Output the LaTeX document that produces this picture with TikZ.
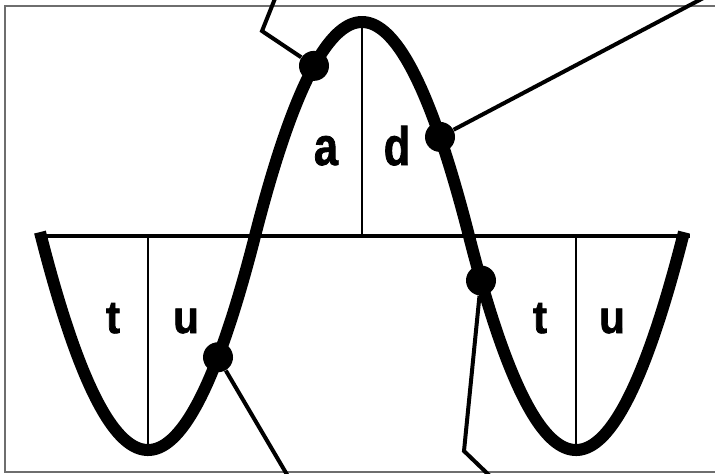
\documentclass[tikz,border=0pt]{standalone}
\usepackage{fontspec}
\setmainfont{Liberation Sans}
\newfontfamily\lblnarrow{Liberation Sans}[FakeStretch=0.8, FakeBold=1.5]
\newfontfamily\lblheavy{Liberation Sans}[FakeStretch=0.92, FakeBold=1.5]
\usepackage{xcolor}
\usepackage{tikz}
\usetikzlibrary{calc}
\definecolor{wvFrame}{HTML}{6E6E6E}

\begin{document}
\begin{tikzpicture}[x=0.5pt, y=-0.5pt,
  declare function={
    pb(\q)=(abs(\q)<1)*(1-\q*\q)+(1-(abs(\q)<1))*((abs(\q)-2)*(abs(\q)-2)-1);
    wv(\p)=236-214*(0.9*pb((\p-362)/107)+0.1*cos((\p-362)/107*90));
  },
  wave/.style={line width=6pt, line join=round},
  baseln/.style={line width=2pt},
  halfln/.style={line width=1pt},
  leader/.style={line width=2pt},
  dot/.style={circle, fill=black, inner sep=0pt, minimum size=15pt},
  toplbl/.style={font=\lblnarrow\bfseries\fontsize{27}{27}\selectfont, anchor=base, inner sep=0pt},
  lowlbl/.style={font=\lblheavy\bfseries\fontsize{23}{23}\selectfont, anchor=base, inner sep=0pt}]
  \useasboundingbox (0,0) rectangle (715,473);
  \clip (0,0) rectangle (715,473);
  \draw[draw=wvFrame, line width=1pt] (5,6) rectangle (730,472);

  % axis and half lines
  \draw[baseln] (35,236) -- (690,236);
  \foreach \xv/\yv in {148/449, 362/22, 576/449}
    \draw[halfln] (\xv,236) -- (\xv,\yv);

  % the wave
  \draw[wave] plot[domain=40:684, samples=300] (\x,{wv(\x)});

  % labels
  \foreach \nm/\xl/\txt in {la/326/a, ld/397/d}
    \node[toplbl] (\nm) at (\xl,165) {\txt};
  \foreach \nm/\xl/\txt in {lt1/113/t, lu1/186/u, lt2/540/t, lu2/612/u}
    \node[lowlbl] (\nm) at (\xl,333) {\txt};

  % points on the wave
  \foreach \nm/\xd in {p1/314, p2/440, p3/218, p4/481}
    \node[dot] (\nm) at (\xd,{wv(\xd)}) {};

  % leaders
  \coordinate (e1a) at (262,31);
  \coordinate (e1b) at (276,-4);
  \coordinate (e2) at (709,-5);
  \coordinate (e3) at (289,478);
  \coordinate (e4a) at (464,451);
  \coordinate (e4b) at (491,477);
  \draw[leader] (p1) -- (e1a) -- (e1b);
  \draw[leader] (p2) -- (e2);
  \draw[leader] (p3) -- (e3);
  \draw[leader] (p4) -- (e4a) -- (e4b);
\end{tikzpicture}
\end{document}
